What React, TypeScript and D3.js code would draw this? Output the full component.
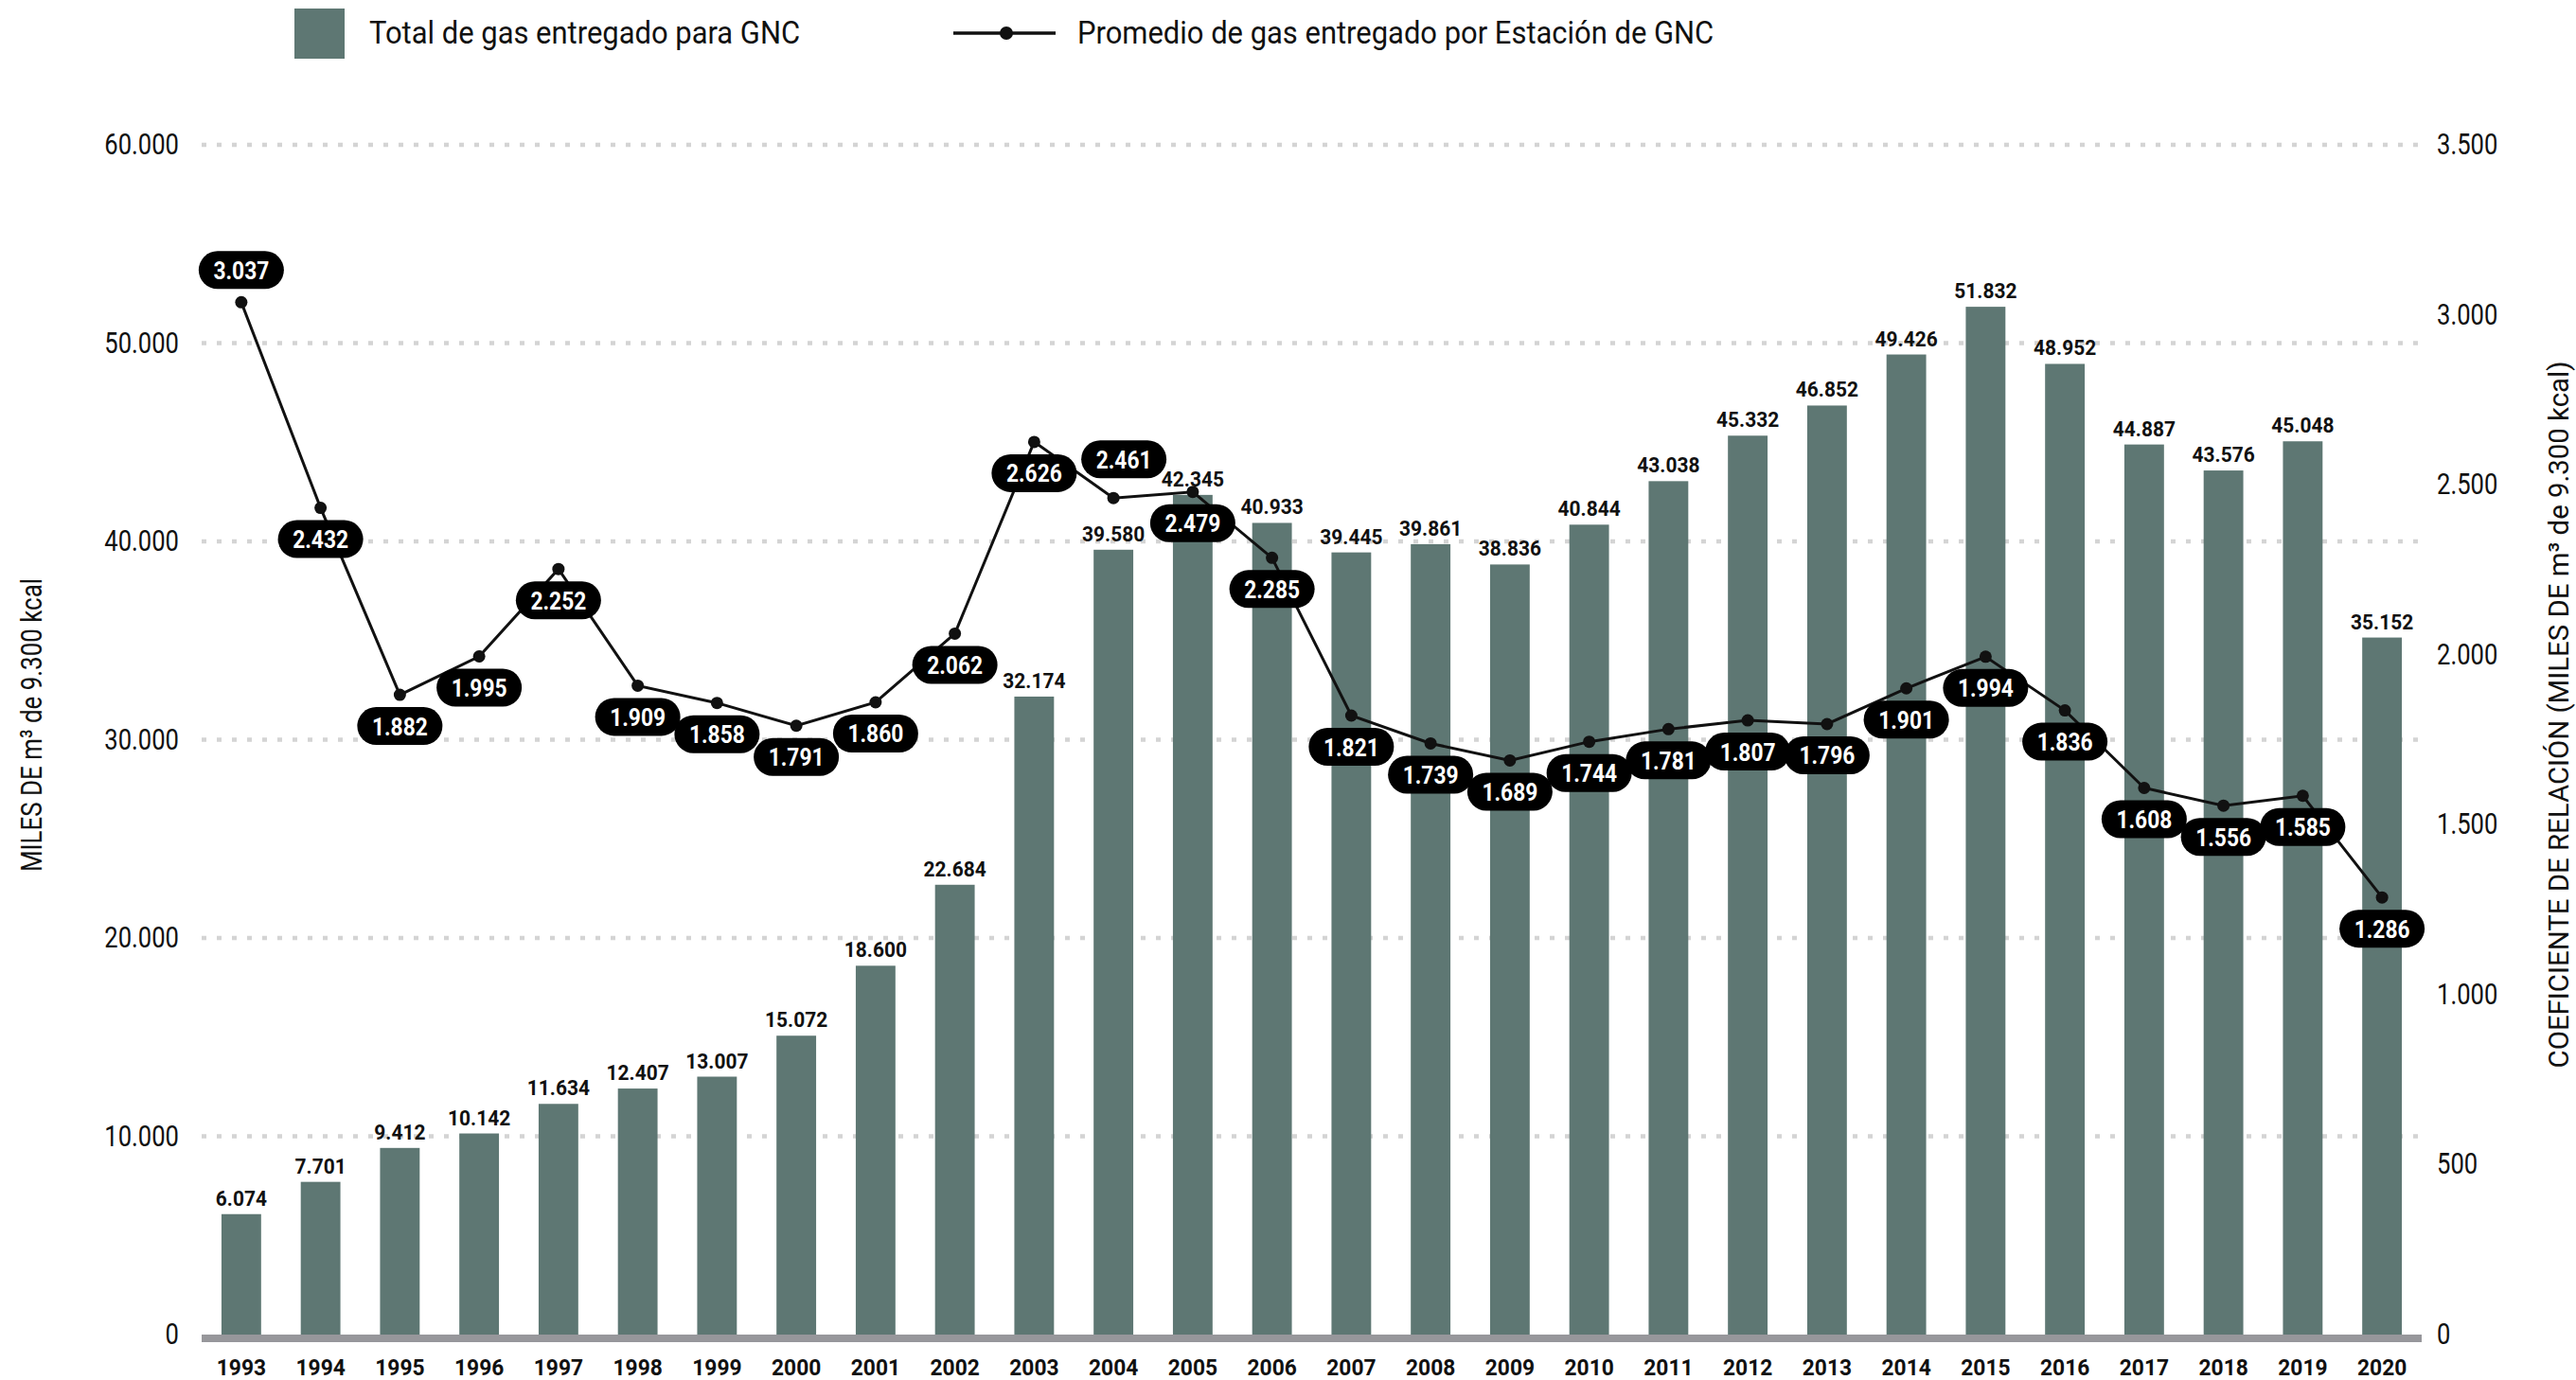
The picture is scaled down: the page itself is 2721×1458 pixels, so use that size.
import { useEffect } from "react";
import * as d3 from "d3";

const years = [
	1993, 1994, 1995, 1996, 1997, 1998, 1999, 2000, 2001, 2002, 2003, 2004, 2005, 2006,
	2007, 2008, 2009, 2010, 2011, 2012, 2013, 2014, 2015, 2016, 2017, 2018, 2019, 2020,
];

// Total de gas entregado para GNC (miles de m3 de 9.300 kcal)
const totalGas = [
	6074, 7701, 9412, 10142, 11634, 12407, 13007, 15072, 18600, 22684, 32174, 39580, 42345, 40933,
	39445, 39861, 38836, 40844, 43038, 45332, 46852, 49426, 51832, 48952, 44887, 43576, 45048, 35152,
];

// Promedio de gas entregado por Estación de GNC
const avgPerStation = [
	3037, 2432, 1882, 1995, 2252, 1909, 1858, 1791, 1860, 2062, 2626, 2461, 2479, 2285,
	1821, 1739, 1689, 1744, 1781, 1807, 1796, 1901, 1994, 1836, 1608, 1556, 1585, 1286,
];

const leftTicks = [0, 10000, 20000, 30000, 40000, 50000, 60000];
const rightTicks = [0, 500, 1000, 1500, 2000, 2500, 3000, 3500];

const legendBars = "Total de gas entregado para GNC";
const legendLine = "Promedio de gas entregado por Estación de GNC";
const leftTitle = "MILES DE m³ de 9.300 kcal";
const rightTitle = "COEFICIENTE DE RELACIÓN (MILES DE m³ de 9.300 kcal)";

// pill label nudges (default: below the point)
const pillNudge: Record<number, [number, number]> = {
	1993: [0, -34],
	2004: [11, -41],
};

const W = 2721;
const H = 1458;
const BAR = "#5e7773";
const FONT = "Roboto, 'Liberation Sans', sans-serif";

const fmt = d3
	.formatLocale({ decimal: ",", thousands: ".", grouping: [3], currency: ["$", ""] })
	.format(",d");

function Txt({ x, y, sx = 1, rotate = 0, children, ...rest }: any) {
	const t = `translate(${x},${y})${rotate ? ` rotate(${rotate})` : ""} scale(${sx},1)`;
	return (
		<text transform={t} {...rest}>
			{children}
		</text>
	);
}

export default function App() {
	useEffect(() => {
		document.body.style.margin = "0";
		document.body.style.overflow = "hidden";
	}, []);

	const plotLeft = 213;
	const plotRight = 2558;

	const x = d3
		.scaleBand<number>()
		.domain(years)
		.range([plotLeft, plotRight])
		.paddingInner(0.5)
		.paddingOuter(0.25);

	const yL = d3.scaleLinear().domain([0, 60000]).range([1410, 153]);
	const yR = d3.scaleLinear().domain([0, 3500]).range([1410, 153]);

	const cx = (i: number) => (x(years[i]) ?? 0) + x.bandwidth() / 2;

	const line = d3
		.line<number>()
		.x((_, i) => cx(i))
		.y((d) => yR(d));

	const REG = 0.8;
	const LEG = 0.91;
	const BOLD = 0.93;
	const PILL = 0.86;
	const pillW = 90;
	const pillH = 40;

	return (
		<svg width={W} height={H} style={{ display: "block", background: "#fff" }} fontFamily={FONT}>
			{/* legend */}
			<rect x={311} y={9} width={53} height={53} fill={BAR} />
			<Txt x={390} y={46} sx={LEG} fontSize={34} fill="#111">
				{legendBars}
			</Txt>
			<line x1={1007} x2={1115} y1={35} y2={35} stroke="#111" strokeWidth={3.5} />
			<circle cx={1063} cy={35} r={7} fill="#111" />
			<Txt x={1138} y={46} sx={LEG} fontSize={34} fill="#111">
				{legendLine}
			</Txt>

			{/* gridlines */}
			{leftTicks
				.filter((t) => t > 0)
				.map((t) => (
					<line
						key={t}
						x1={plotLeft}
						x2={plotRight}
						y1={yL(t)}
						y2={yL(t)}
						stroke="#d4d4d4"
						strokeWidth={4.5}
						strokeDasharray="5 11"
					/>
				))}

			{/* left axis */}
			{leftTicks.map((t) => (
				<Txt key={t} x={189} y={yL(t) + 10} sx={REG} fontSize={32} textAnchor="end" fill="#111">
					{fmt(t)}
				</Txt>
			))}
			<Txt x={44} y={766} rotate={-90} sx={0.81} fontSize={32} textAnchor="middle" fill="#111">
				{leftTitle}
			</Txt>

			{/* right axis */}
			{rightTicks.map((t) => (
				<Txt key={t} x={2574} y={yR(t) + 10} sx={REG} fontSize={32} fill="#111">
					{fmt(t)}
				</Txt>
			))}
			<Txt x={2713} y={755} rotate={-90} sx={0.98} fontSize={30} textAnchor="middle" fill="#111">
				{rightTitle}
			</Txt>

			{/* bars */}
			{totalGas.map((v, i) => (
				<rect
					key={years[i]}
					x={x(years[i])}
					y={yL(v)}
					width={x.bandwidth()}
					height={yL(0) - yL(v)}
					fill={BAR}
				/>
			))}
			<rect x={plotLeft} y={1410} width={plotRight - plotLeft} height={8} fill="#97979b" />

			{/* year labels */}
			{years.map((yr, i) => (
				<Txt key={yr} x={cx(i)} y={1453} sx={BOLD} fontSize={24.5} fontWeight={700} textAnchor="middle" fill="#111">
					{yr}
				</Txt>
			))}

			{/* bar value labels */}
			{totalGas.map((v, i) => (
				<Txt key={years[i]} x={cx(i)} y={yL(v) - 9} sx={BOLD} fontSize={22.5} fontWeight={700} textAnchor="middle" fill="#111">
					{fmt(v)}
				</Txt>
			))}

			{/* line series */}
			<path d={line(avgPerStation) ?? ""} fill="none" stroke="#111" strokeWidth={3} />
			{avgPerStation.map((v, i) => (
				<circle key={years[i]} cx={cx(i)} cy={yR(v)} r={6.5} fill="#111" />
			))}

			{/* pill labels */}
			{avgPerStation.map((v, i) => {
				const [dx, dy] = pillNudge[years[i]] ?? [0, 33];
				const px = cx(i) + dx;
				const py = yR(v) + dy;
				return (
					<g key={years[i]}>
						<rect
							x={px - pillW / 2}
							y={py - pillH / 2}
							width={pillW}
							height={pillH}
							rx={pillH / 2}
							fill="#000"
						/>
						<Txt x={px} y={py + 9.5} sx={PILL} fontSize={26.5} fontWeight={700} textAnchor="middle" fill="#fff">
							{fmt(v)}
						</Txt>
					</g>
				);
			})}
		</svg>
	);
}
